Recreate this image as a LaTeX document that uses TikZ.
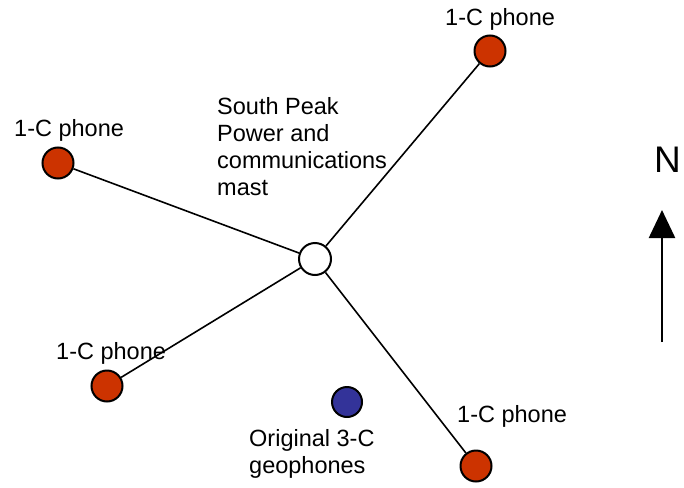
\documentclass[tikz,border=0pt]{standalone}
\usepackage{fontspec}
\setmainfont{Liberation Sans}
\usetikzlibrary{arrows.meta}
\definecolor{phonered}{RGB}{204,51,0}
\definecolor{geoblue}{RGB}{51,51,153}
\tikzset{
  site/.style={circle,draw=black,line width=2pt,minimum size=31pt,inner sep=0pt},
  phone/.style={site,fill=phonered},
  geo/.style={site,fill=geoblue,minimum size=30pt},
  mastnode/.style={site,fill=white,minimum size=32pt},
  lbl/.style={anchor=base west,inner sep=0pt,font=\fontsize{23.5}{27}\selectfont,align=left},
  link/.style={line width=1.6pt}
}
\begin{document}
\begin{tikzpicture}[x=1pt,y=-1pt]
\useasboundingbox (0,0) rectangle (684,487);
\node[mastnode] (mast) at (315,259) {};
\node[phone] (p1) at (490,51) {};
\node[phone] (p2) at (58,163) {};
\node[phone] (p3) at (107,386) {};
\node[phone] (p4) at (476,466) {};
\node[geo] (g) at (347,402) {};
\draw[link] (mast) -- (p1);
\draw[link] (mast) -- (p2);
\draw[link] (mast) -- (p3);
\draw[link] (mast) -- (p4);
\node[lbl] (t1) at (445,26) {1-C phone};
\node[lbl] (t2) at (14,136) {1-C phone};
\node[lbl] (t3) at (56,359) {1-C phone};
\node[lbl] (t4) at (457,422) {1-C phone};
\node[lbl] (tm) at (217,195) {South Peak\\Power and\\communications\\mast};
\node[lbl] (tg) at (249,473) {Original 3-C\\geophones};
\node[anchor=base west,inner sep=0pt,font=\fontsize{37}{40}\selectfont] (n) at (654,172) {N};
\coordinate (a0) at (662,342);
\coordinate (a1) at (662,210);
\draw[line width=2.4pt,-{Triangle[length=28pt,width=26pt]}] (a0) -- (a1);
\end{tikzpicture}
\end{document}
